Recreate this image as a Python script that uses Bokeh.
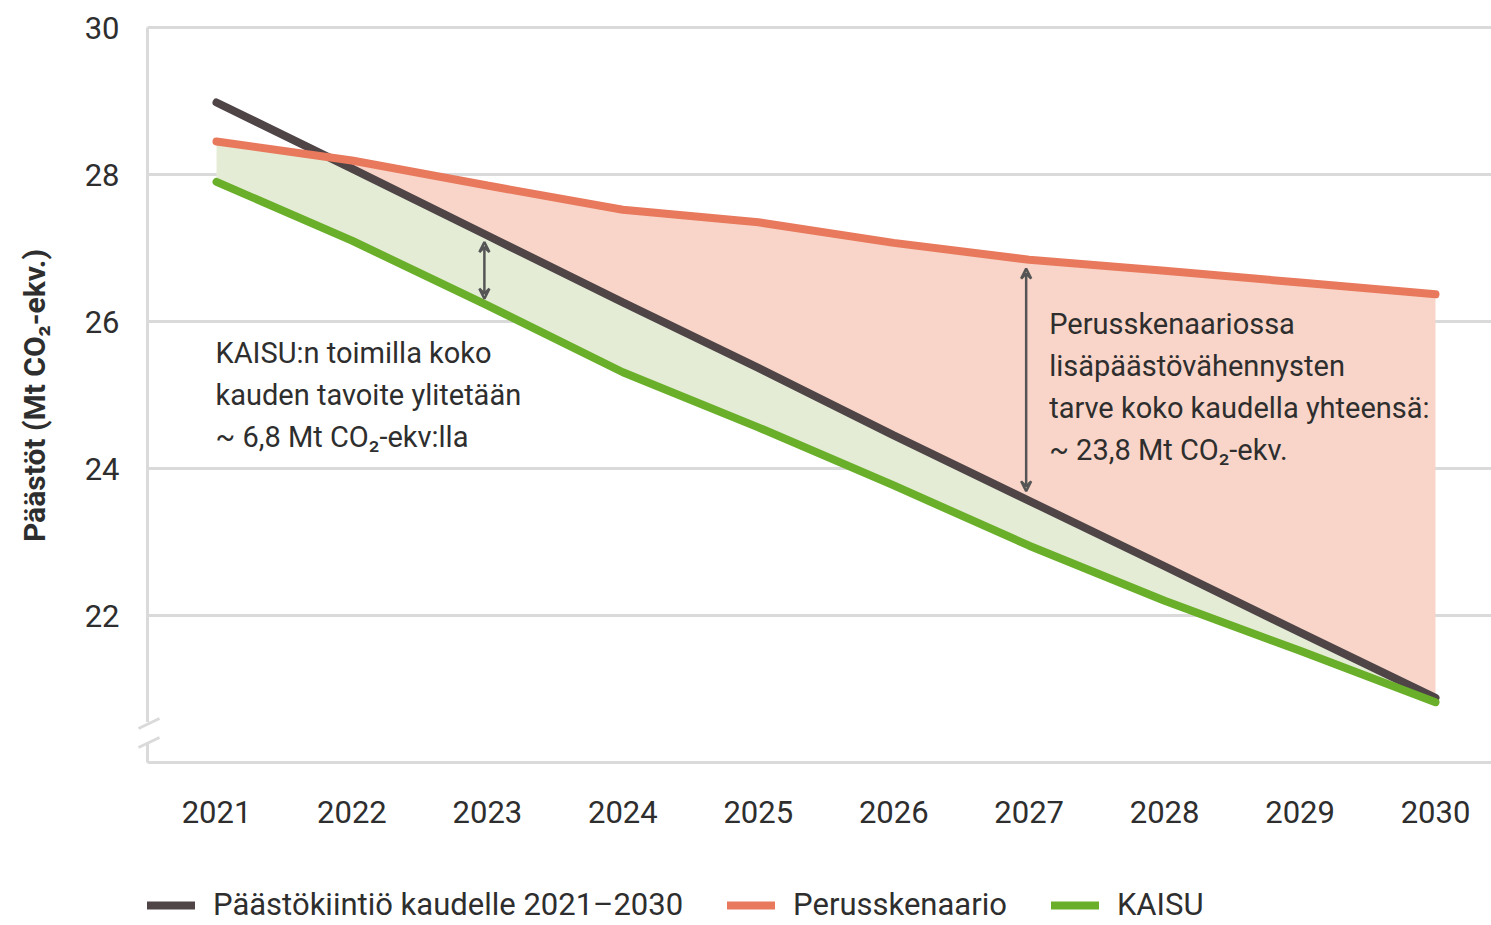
from bokeh.plotting import figure
from bokeh.layouts import column
from bokeh.models import Legend, LegendItem, Label, Arrow, VeeHead, FixedTicker, Range1d
from bokeh.embed import file_html
from bokeh.resources import INLINE

# ---- data ----
years = [2021, 2022, 2023, 2024, 2025, 2026, 2027, 2028, 2029, 2030]
kiintio = [28.98, 28.08, 27.17, 26.26, 25.37, 24.45, 23.56, 22.67, 21.77, 20.88]
perus = [28.45, 28.19, 27.85, 27.52, 27.35, 27.07, 26.84, 26.69, 26.53, 26.37]
kaisu = [27.90, 27.10, 26.22, 25.31, 24.56, 23.77, 22.95, 22.20, 21.52, 20.82]
y_ticks = [22, 24, 26, 28, 30]
x_ticks = years
legend_labels = ["Päästökiintiö kaudelle 2021–2030", "Perusskenaario", "KAISU"]
note1 = ["KAISU:n toimilla koko", "kauden tavoite ylitetään", "~ 6,8 Mt CO₂-ekv:lla"]
note2 = ["Perusskenaariossa", "lisäpäästövähennysten", "tarve koko kaudella yhteensä:", "~ 23,8 Mt CO₂-ekv."]
y_label = "Päästöt (Mt CO₂-ekv.)"

FONT = "Roboto"
C_DARK = "#4f4547"
C_OR = "#e8795d"
C_GR = "#6aaf2a"
F_GR = "#e4ecd6"
F_OR = "#f8d5c8"
C_GRID = "#dadada"
C_TXT = "#2e2e2e"

# scales (px per unit)
PX_X = 135.44
PX_Y = 73.5
x_start = 2021 - 86 / PX_X
x_end = 2030 + 56 / PX_X
y_start = 30 - 743 / PX_Y
y_end = 30 + 7 / PX_Y
axis_x = 2021 - 69 / PX_X

p = figure(width=1491, height=860, output_backend="svg", toolbar_location=None,
           x_range=Range1d(x_start, x_end), y_range=Range1d(y_start, y_end),
           min_border_left=130, min_border_right=0, min_border_top=20, min_border_bottom=90)
p.outline_line_color = None
p.xgrid.visible = False
p.ygrid.visible = False

for ax in (p.xaxis[0], p.yaxis[0]):
    ax.axis_line_color = None
    ax.major_tick_line_color = None
    ax.minor_tick_line_color = None
    ax.major_label_text_font = FONT
    ax.major_label_text_font_size = "31px"
    ax.major_label_text_color = C_TXT
p.xaxis.ticker = FixedTicker(ticks=x_ticks)
p.yaxis.ticker = FixedTicker(ticks=y_ticks)
p.xaxis.major_label_standoff = 24
p.yaxis.major_label_standoff = 5
p.yaxis.axis_label = y_label
p.yaxis.axis_label_text_font = FONT
p.yaxis.axis_label_text_font_size = "30px"
p.yaxis.axis_label_text_font_style = "bold"
p.yaxis.axis_label_text_color = C_TXT
p.yaxis.axis_label_standoff = 30

# grid & axis lines
p.segment(x0=[axis_x] * len(y_ticks), x1=[x_end] * len(y_ticks), y0=y_ticks, y1=y_ticks,
          line_color=C_GRID, line_width=3)
p.segment(x0=[axis_x, axis_x, axis_x], x1=[x_end, axis_x, axis_x],
          y0=[20, 30, 20.27], y1=[20, 20.55, 20],
          line_color=C_GRID, line_width=3)
# axis break marks
bx0 = axis_x - 9 / PX_X
bx1 = axis_x + 12 / PX_X
p.segment(x0=[bx0, bx0], x1=[bx1, bx1],
          y0=[30 - 701 / PX_Y, 30 - 720 / PX_Y], y1=[30 - 691 / PX_Y, 30 - 710 / PX_Y],
          line_color=C_GRID, line_width=3)

# fill bands (insert crossing points between series)
fx, f_low, f_mid, f_top = [], [], [], []
for i in range(len(years)):
    fx.append(years[i]); f_low.append(kaisu[i])
    f_mid.append(min(perus[i], kiintio[i])); f_top.append(max(perus[i], kiintio[i]))
    if i < len(years) - 1:
        d0 = perus[i] - kiintio[i]
        d1 = perus[i + 1] - kiintio[i + 1]
        if d0 * d1 < 0:
            t = d0 / (d0 - d1)
            xc = years[i] + t * (years[i + 1] - years[i])
            yc = perus[i] + t * (perus[i + 1] - perus[i])
            kc = kaisu[i] + t * (kaisu[i + 1] - kaisu[i])
            fx.append(xc); f_low.append(kc); f_mid.append(yc); f_top.append(yc)
f_q = []
for x in fx:
    for i in range(len(years) - 1):
        if years[i] <= x <= years[i + 1]:
            t = (x - years[i]) / (years[i + 1] - years[i])
            f_q.append(kiintio[i] + t * (kiintio[i + 1] - kiintio[i]))
            break
p.varea(x=fx, y1=f_low, y2=f_mid, fill_color=F_GR)
p.varea(x=fx, y1=f_q, y2=f_top, fill_color=F_OR)

line_styles = [C_DARK, C_OR, C_GR]
p.line(years, kiintio, line_color=C_DARK, line_width=8, line_cap="round")
p.line(years, kaisu, line_color=C_GR, line_width=8, line_cap="round")
p.line(years, perus, line_color=C_OR, line_width=8, line_cap="round")

# arrows
i1 = years.index(2023)
i2 = years.index(2027)
for (xa, ya, yb) in [(2023, kaisu[i1] + 0.09, kiintio[i1] - 0.09),
                     (2027, kiintio[i2] + 0.13, perus[i2] - 0.12)]:
    p.add_layout(Arrow(x_start=xa - 3 / PX_X, x_end=xa - 3 / PX_X, y_start=ya, y_end=yb,
                       line_color="#555555", line_width=2.5,
                       start=VeeHead(size=10, line_color="#555555", line_width=2.5, fill_color=None),
                       end=VeeHead(size=10, line_color="#555555", line_width=2.5, fill_color=None)))

# notes
for k, s in enumerate(note1):
    p.add_layout(Label(x=2021, y=30 - (352 - 27 + 42 * k) / PX_Y, x_offset=-1, text=s,
                       text_font=FONT, text_font_size="29px", text_color=C_TXT,
                       text_baseline="middle", text_align="left"))
for k, s in enumerate(note2):
    p.add_layout(Label(x=2027, y=30 - (323 - 27 + 42.3 * k) / PX_Y, x_offset=20, text=s,
                       text_font=FONT, text_font_size="29px", text_color=C_TXT,
                       text_baseline="middle", text_align="left"))

# legend strip (separate small figure below; its frame is aligned with the main frame)
pl = figure(width=1491, height=65, output_backend="svg", toolbar_location=None,
            x_range=Range1d(0, 1), y_range=Range1d(0, 1),
            min_border_left=130, min_border_right=0, min_border_top=0, min_border_bottom=0)
pl.outline_line_color = None
pl.axis.visible = False
pl.grid.visible = False
lr = [pl.line([5, 6], [5, 6], line_color=c, line_width=8, line_cap="round") for c in line_styles]
legend = Legend(items=[LegendItem(label=legend_labels[k], renderers=[lr[k]]) for k in range(3)],
                orientation="horizontal", location=(17, 2),
                label_text_font=FONT, label_text_font_size="31px", label_text_color=C_TXT,
                glyph_width=48, glyph_height=34, label_height=34, label_standoff=18, spacing=44,
                padding=0, margin=0, border_line_color=None, background_fill_alpha=0)
pl.add_layout(legend, "center")

layout = column(p, pl, spacing=0)
open("out.html", "w").write(file_html(layout, INLINE))
